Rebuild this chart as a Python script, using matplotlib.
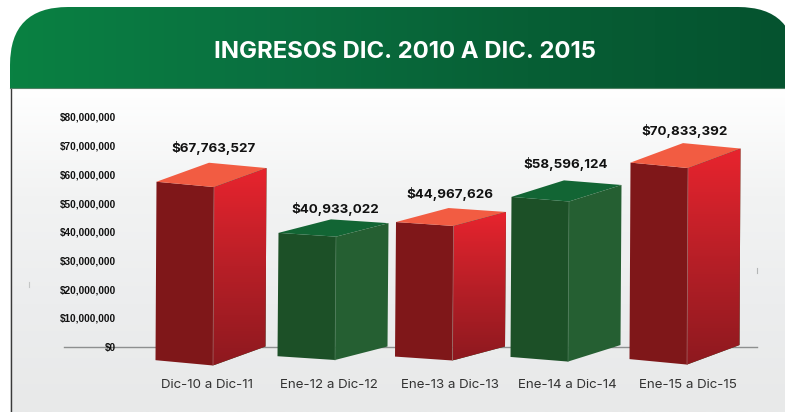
import numpy as np
import matplotlib
matplotlib.use("Agg")
import matplotlib.pyplot as plt
from matplotlib.colors import LinearSegmentedColormap
from matplotlib.patches import FancyBboxPatch, Polygon

# Data
categories = ["Dic-10 a Dic-11", "Ene-12 a Dic-12", "Ene-13 a Dic-13", "Ene-14 a Dic-14", "Ene-15 a Dic-15"]
labelled_values = [67763527, 40933022, 44967626, 58596124, 70833392]
# height the artwork really gives each box, read at its back right corner
drawn_values = [62.2e6, 43.0e6, 46.9e6, 56.3e6, 69.0e6]
drawn_bases = [0, 0, 0, 0.5e6, 0.5e6]
is_red = [True, False, True, False, True]
y_ticks = [0, 10e6, 20e6, 30e6, 40e6, 50e6, 60e6, 70e6, 80e6]
title = "INGRESOS DIC. 2010 A DIC. 2015"

# Layout, all in pixels of the 785x412 picture
W, H = 785, 412
y_zero = 346.5
y_top = 117.0
px_per_unit = (y_zero - y_top) / 80e6
bar_centers = [210.5, 332.5, 450.0, 565.5, 684.5]
bar_rise = [19.0, 13.5, 14.0, 16.5, 19.5]
label_x = [207, 329, 450, 567, 688]
value_label_x = [213, 335, 449.5, 566, 685]
value_label_y = [148, 208.5, 193.5, 163.5, 130.5]
front_w = 57.5
side_w = 52.5

plt.rcParams["font.family"] = ["Inter", "DejaVu Sans"]

fig = plt.figure(figsize=(W / 100, H / 100), dpi=100, facecolor="white")

# Background panel and header
bg = fig.add_axes([0, 0, 1, 1], zorder=0)
bg.set_xlim(0, W)
bg.set_ylim(H, 0)
bg.axis("off")

panel_cmap = LinearSegmentedColormap.from_list("panel", ["#ffffff", "#f2f3f3", "#ecedee", "#e8e9e9"])
bg.imshow(np.linspace(0, 1, 256).reshape(-1, 1), cmap=panel_cmap, extent=(10, W, H, 88), aspect="auto", zorder=1)
bg.plot([10.5, 10.5], [88, H], color="#3a3a3a", lw=1.0, zorder=2)

header_cmap = LinearSegmentedColormap.from_list("header", ["#098142", "#0a7040", "#075f35", "#05532f"])
header_img = bg.imshow(np.linspace(0, 1, 256).reshape(1, -1), cmap=header_cmap, extent=(10, W, 88, 7), aspect="auto", zorder=3)
header_shape = FancyBboxPatch((68, 65), 670, 100, boxstyle="round,pad=58", transform=bg.transData,
                              facecolor="none", edgecolor="none")
bg.add_patch(header_shape)
header_img.set_clip_path(header_shape)
bg.plot([10, W], [88, 88], color="#4f8064", lw=0.8, zorder=4)
bg.set_xlim(0, W)
bg.set_ylim(H, 0)

bg.text(404.5, 52, title, color="white", fontsize=17.2, fontweight="bold", ha="center", va="center", zorder=5)

# stray marks in the artwork
bg.plot([28.5, 28.5], [282, 287], color="#c4c6c6", lw=0.8, zorder=2)
bg.plot([757, 757], [267.5, 272.5], color="#b4b6b6", lw=0.8, zorder=2)

# Chart axes: x stays in pixels, y in money
left_px, right_px = 118, 757
ax = fig.add_axes([left_px / W, 1 - y_zero / H, (right_px - left_px) / W, (y_zero - y_top) / H], zorder=1)
ax.patch.set_alpha(0)
for s in ax.spines.values():
    s.set_visible(False)
ax.set_xlim(left_px, right_px)
ax.set_ylim(0, 80e6)

ax.set_yticks(y_ticks)
ax.set_yticklabels(["${:,.0f}".format(v) for v in y_ticks], fontsize=7.2, fontweight="bold",
                   family=["Liberation Sans"], color="#111111")
ax.tick_params(axis="y", length=0, pad=1.5)
ax.set_xticks(label_x)
ax.set_xticklabels(categories, fontsize=9.6, color="#333333")
ax.tick_params(axis="x", length=0, pad=23.5)

ax.plot([64, right_px], [0, 0], color="#8d8f8f", lw=1.0, clip_on=False, zorder=1)

red_cmap = LinearSegmentedColormap.from_list("red_side", ["#8e191f", "#b81f27", "#e8242e"])


def add_bar(center, value, base, rise, red):
    right = center + (front_w + side_w) / 2
    mid = right - side_w
    left = mid - front_w
    drop = rise / px_per_unit
    tilt = 0.28 * drop
    lean = 1.0

    front = [(left, base - drop + tilt), (mid, base - drop),
             (mid + lean, value - drop), (left + lean, value - drop + tilt)]
    side = [(mid, base - drop), (right, base), (right + lean, value), (mid + lean, value - drop)]
    top = [(left + lean, value - drop + tilt), (mid + lean, value - drop), (right + lean, value),
           (right + lean - front_w, value + tilt)]

    front_col = "#7f1719" if red else "#1c5027"
    top_col = "#f25c42" if red else "#126534"
    side_col = "#255f32"

    ax.add_patch(Polygon(front, closed=True, facecolor=front_col, edgecolor="none", clip_on=False, zorder=3))
    ax.add_patch(Polygon(top, closed=True, facecolor=top_col, edgecolor="none", clip_on=False, zorder=3))
    side_patch = Polygon(side, closed=True, facecolor=side_col, edgecolor="none", clip_on=False, zorder=3)
    ax.add_patch(side_patch)
    if red:
        img = ax.imshow(np.linspace(0, 1, 128).reshape(-1, 1), cmap=red_cmap, origin="lower", aspect="auto",
                        extent=(mid, right + lean, base - drop, value), zorder=3.5)
        img.set_clip_box(fig.bbox)
        img.set_clip_path(side_patch)
    # thin light edge between front and side
    ax.plot([mid, mid + lean], [base - drop, value - drop], color="#a9686a" if red else "#4c7a58", lw=0.5,
            clip_on=False, zorder=4)


for i in range(len(categories)):
    add_bar(bar_centers[i], drawn_values[i], drawn_bases[i], bar_rise[i], is_red[i])

ax.set_xlim(left_px, right_px)
ax.set_ylim(0, 80e6)

# Value labels
for i, v in enumerate(labelled_values):
    bg.text(value_label_x[i], value_label_y[i], "${:,}".format(v), color="#111111", fontsize=9.6,
            fontweight="bold", ha="center", va="center", zorder=5)

fig.savefig("out.png", dpi=100)
